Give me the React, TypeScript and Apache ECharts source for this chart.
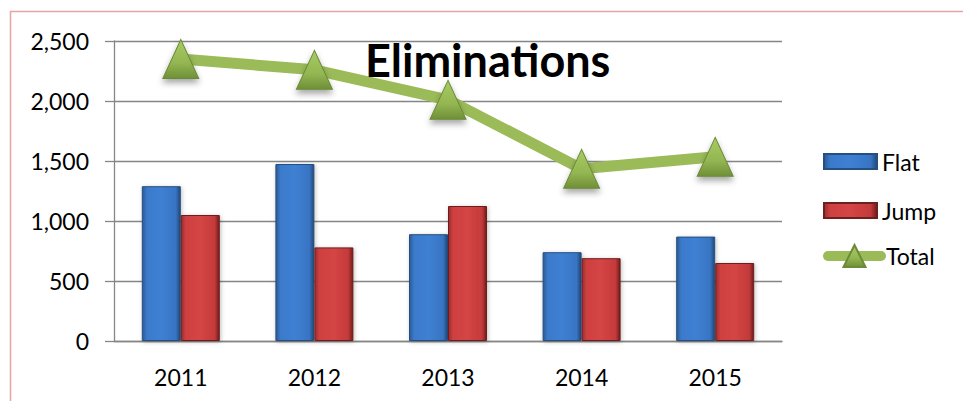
import React, { useEffect, useRef } from "react";
import * as echarts from "echarts";

const categories = ["2011", "2012", "2013", "2014", "2015"];
const flatValues = [1290, 1475, 890, 740, 870];
const jumpValues = [1050, 780, 1125, 690, 650];
const totalValues = [2350, 2260, 2010, 1435, 1535];
const yMin = 0;
const yMax = 2500;
const yInterval = 500;
const titleText = "Eliminations";

export default function App() {
  const ref = useRef<HTMLDivElement>(null);

  useEffect(() => {
    document.body.style.margin = "0";
    const chart = echarts.init(ref.current as HTMLDivElement, null, { renderer: "svg" });

    const blue = new echarts.graphic.LinearGradient(0, 0, 1, 0, [
      { offset: 0, color: "#2c5994" },
      { offset: 0.12, color: "#3b7acb" },
      { offset: 0.5, color: "#3f80d3" },
      { offset: 0.88, color: "#3874c3" },
      { offset: 1, color: "#224878" },
    ]);
    const red = new echarts.graphic.LinearGradient(0, 0, 1, 0, [
      { offset: 0, color: "#9a2e2e" },
      { offset: 0.12, color: "#cf4040" },
      { offset: 0.5, color: "#d44545" },
      { offset: 0.88, color: "#c43a3a" },
      { offset: 1, color: "#6e1c1c" },
    ]);
    const green = new echarts.graphic.LinearGradient(0, 0, 0, 1, [
      { offset: 0, color: "#a9cb63" },
      { offset: 0.6, color: "#94b652" },
      { offset: 1, color: "#6f8f36" },
    ]);

    const font = "Lato";

    chart.setOption({
      animation: false,
      textStyle: { fontFamily: font, color: "#000" },
      title: {
        text: titleText,
        left: 365,
        top: 37,
        padding: 0,
        textStyle: { fontFamily: font, fontSize: 45, fontWeight: "bold", color: "#000" },
      },
      graphic: [
        {
          type: "rect",
          silent: true,
          z: -10,
          shape: { x: 10.5, y: 11.5, width: 1000, height: 500 },
          style: { fill: "none", stroke: "#e6a4a4", lineWidth: 1.5 },
        },
      ],
      legend: [
        {
          orient: "vertical",
          left: 823,
          top: 150,
          padding: 0,
          itemWidth: 53,
          itemHeight: 15,
          itemGap: 26,
          icon: "rect",
          data: ["Flat", "Jump"],
          textStyle: { fontFamily: font, fontSize: 23, lineHeight: 22, color: "#000" },
        },
        {
          orient: "vertical",
          left: 823,
          top: 244,
          padding: 0,
          itemWidth: 53,
          itemHeight: 27.5,
          data: ["Total"],
          lineStyle: { width: 10, cap: "round", color: "#9bbb59" },
          textStyle: { fontFamily: font, fontSize: 23, lineHeight: 22, color: "#000" },
        },
      ],
      grid: { left: 114, right: 181, top: 41, bottom: 60, containLabel: false },
      xAxis: {
        type: "category",
        data: categories,
        axisLine: { lineStyle: { color: "#868686", width: 1.3 } },
        axisTick: { length: 8, lineStyle: { color: "#868686", width: 1.3 } },
        axisLabel: { fontFamily: font, fontSize: 23, color: "#000", margin: 24 },
      },
      yAxis: {
        type: "value",
        min: yMin,
        max: yMax,
        interval: yInterval,
        axisLine: { show: true, lineStyle: { color: "#868686", width: 1.3 } },
        axisTick: { show: true, length: 9, lineStyle: { color: "#868686", width: 1.3 } },
        splitLine: { lineStyle: { color: "#858585", width: 1.3 } },
        axisLabel: {
          fontFamily: font,
          fontSize: 23,
          color: "#000",
          margin: 25,
          formatter: (v: number) => v.toLocaleString("en-US"),
        },
      },
      series: [
        {
          name: "Flat",
          type: "bar",
          data: flatValues,
          barWidth: 39,
          barGap: "0%",
          itemStyle: {
            color: blue,
            borderColor: "#24507f",
            borderWidth: 1,
            shadowColor: "rgba(0,0,0,0.25)",
            shadowBlur: 4,
            shadowOffsetX: 1,
            shadowOffsetY: 1,
          },
        },
        {
          name: "Jump",
          type: "bar",
          data: jumpValues,
          barWidth: 39,
          barGap: "0%",
          itemStyle: {
            color: red,
            borderColor: "#6e1f1f",
            borderWidth: 1,
            shadowColor: "rgba(0,0,0,0.25)",
            shadowBlur: 4,
            shadowOffsetX: 1,
            shadowOffsetY: 1,
          },
        },
        {
          name: "Total",
          type: "line",
          data: totalValues,
          symbol: "triangle",
          symbolSize: [36, 39],
          z: 5,
          lineStyle: { color: "#9bbb59", width: 11 },
          itemStyle: {
            color: green,
            borderColor: "#6b8a3a",
            borderWidth: 1,
            shadowColor: "rgba(0,0,0,0.35)",
            shadowBlur: 6,
            shadowOffsetY: 4,
          },
        },
      ],
    });

    return () => chart.dispose();
  }, []);

  return <div ref={ref} style={{ width: 963, height: 401 }} />;
}
